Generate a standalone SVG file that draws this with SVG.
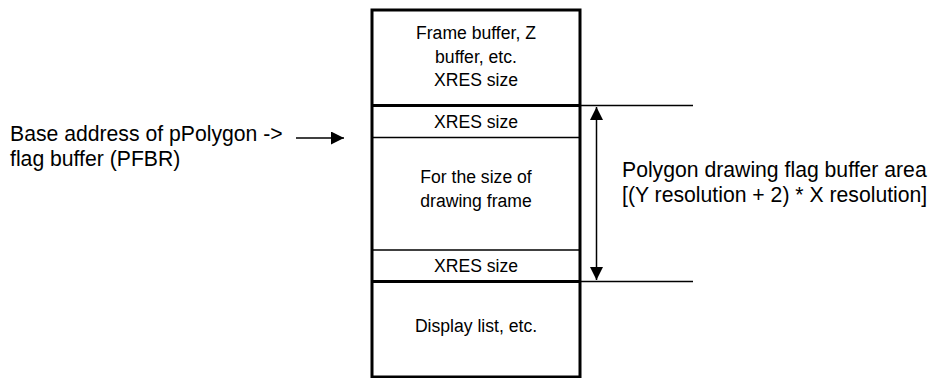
<svg xmlns="http://www.w3.org/2000/svg" width="931" height="378" viewBox="0 0 931 378">
<style>
text{font-family:"Liberation Sans",Arial,sans-serif;fill:#000}
.big{font-size:21.2px}
.box{font-size:17.6px;text-anchor:middle}
.thick{stroke:#000;stroke-width:3;fill:none}
.thin{stroke:#000;stroke-width:1.5;fill:none}
</style>
<defs>
<marker id="ah" viewBox="0 0 13 13" refX="13" refY="6.5" markerWidth="13" markerHeight="13" markerUnits="userSpaceOnUse" orient="auto-start-reverse">
<path d="M0,0 L13,6.5 L0,13 Z" fill="#000"/>
</marker>
</defs>
<rect x="0" y="0" width="931" height="378" fill="#fff"/>
<g id="frame-buffer">
<rect x="372" y="10" width="208" height="95.5" fill="#fff"/>
<text class="box" x="476" y="39">Frame buffer, Z</text>
<text class="box" x="476" y="62.5">buffer, etc.</text>
<text class="box" x="476" y="86">XRES size</text>
</g>
<g id="xres-top">
<text class="box" x="476" y="127.5">XRES size</text>
</g>
<g id="drawing-frame">
<text class="box" x="476" y="183">For the size of</text>
<text class="box" x="476" y="206.5">drawing frame</text>
</g>
<g id="xres-bottom">
<text class="box" x="476" y="271.5">XRES size</text>
</g>
<g id="display-list">
<text class="box" x="476" y="332">Display list, etc.</text>
</g>
<g id="memory-box">
<line class="thin" x1="372" y1="137.5" x2="580" y2="137.5"/>
<line class="thin" x1="372" y1="250" x2="580" y2="250"/>
<line class="thick" x1="372" y1="105.5" x2="580" y2="105.5"/>
<line class="thick" x1="372" y1="281.5" x2="580" y2="281.5"/>
<rect class="thick" x="372" y="10" width="208" height="367"/>
</g>
<g id="base-label">
<text class="big" x="10" y="141">Base address of pPolygon -&gt;</text>
<text class="big" x="10" y="166">flag buffer (PFBR)</text>
</g>
<g id="area-label">
<text class="big" x="622" y="177">Polygon drawing flag buffer area</text>
<text class="big" x="622" y="202">[(Y resolution + 2) * X resolution]</text>
</g>
<g id="connectors">
<line class="thin" x1="296" y1="138" x2="344" y2="138" marker-end="url(#ah)"/>
<line class="thin" x1="580" y1="105.5" x2="693" y2="105.5"/>
<line class="thin" x1="580" y1="281.5" x2="693" y2="281.5"/>
<line class="thin" x1="596.5" y1="107" x2="596.5" y2="280" marker-start="url(#ah)" marker-end="url(#ah)"/>
</g>
</svg>
